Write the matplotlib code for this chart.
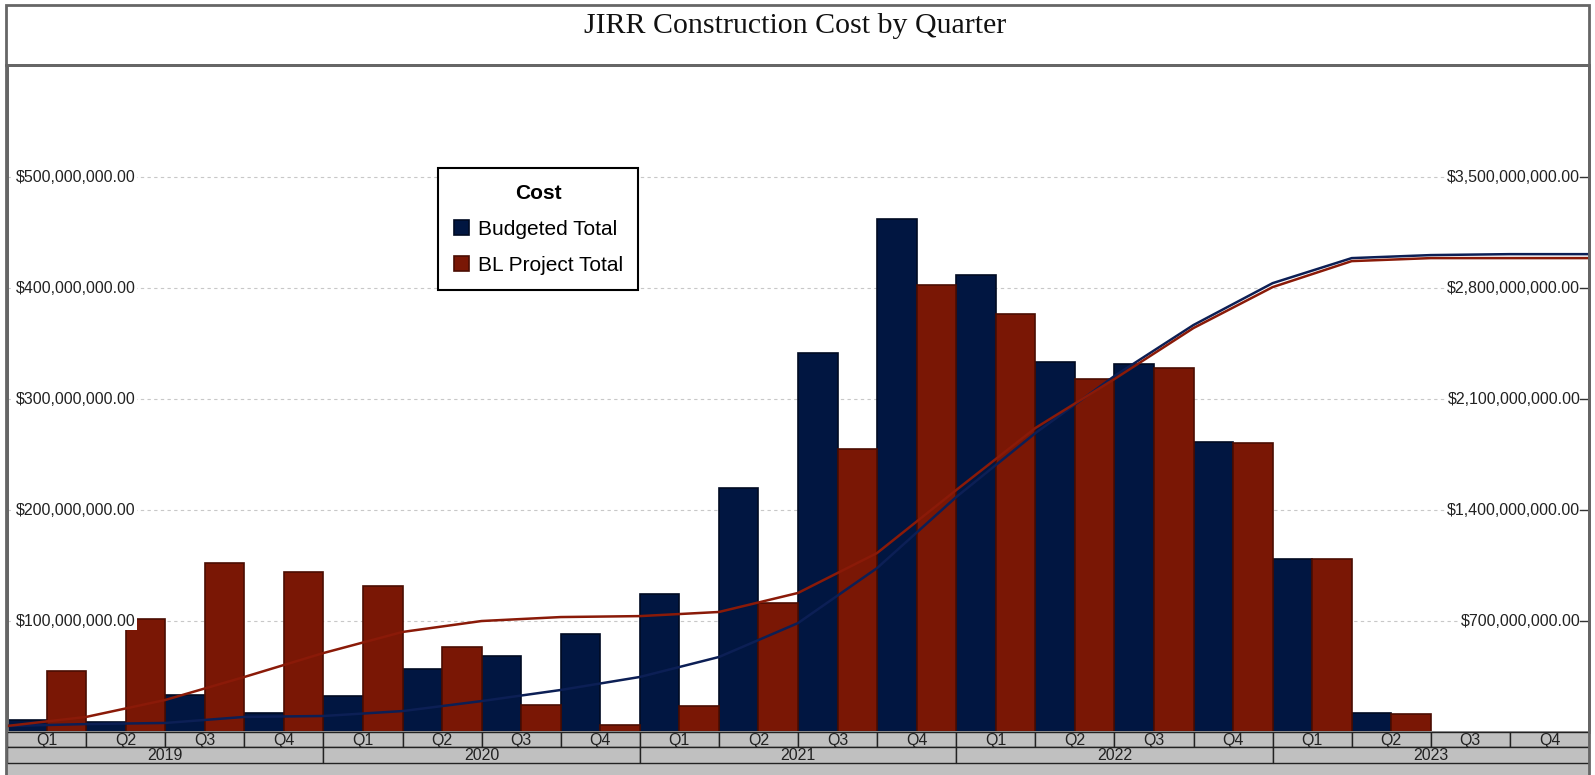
import numpy as np
import matplotlib
matplotlib.use("Agg")
import matplotlib.pyplot as plt
from matplotlib.patches import Rectangle
from matplotlib.lines import Line2D

plt.rcParams['font.family'] = ['Liberation Sans', 'DejaVu Sans']

# quarterly cost, millions of dollars (left axis)
quarters = ['Q1', 'Q2', 'Q3', 'Q4'] * 5
years = ['2019', '2020', '2021', '2022', '2023']
budgeted = [10.8, 8.7, 33.3, 17.4, 32.4, 56.8, 68.7, 88.3, 124.3, 219.8,
            341.7, 462, 412, 333, 332, 261, 156, 17, 0, 0]
bl_project = [55, 101.8, 152.5, 144.4, 131.5, 76.3, 24.3, 6.3, 23.4, 116.5,
              255, 403, 377, 317.7, 327.6, 260, 156, 16.5, 0, 0]

# running totals read at the quarter boundaries, millions (right axis)
budgeted_cum = [38, 50, 57, 95, 101, 132, 195, 265, 347, 473, 687,
                1034, 1482, 1885, 2245, 2567, 2831, 2989, 3008, 3014, 3014]
bl_project_cum = [38, 95, 202, 347, 498, 631, 700, 725, 731, 757, 877,
                  1129, 1526, 1917, 2226, 2548, 2806, 2970, 2989, 2989, 2989]

left_ticks = [100, 200, 300, 400, 500]
right_ticks = [700, 1400, 2100, 2800, 3500]

NAVY = '#011641'
RED = '#7a1705'
GRAY = '#c0c0c0'
W, H = 1595, 775

fig = plt.figure(figsize=(W / 100, H / 100), dpi=100)
ax_l, ax_r = 7 / W, 1589 / W
ax = fig.add_axes([ax_l, 43 / H, ax_r - ax_l, (732 - 65) / H])
ax2 = ax.twinx()  # sits on top, so the lines cross over the bars

x = np.arange(len(quarters))
ax.bar(x - 0.25, budgeted, width=0.5, color=NAVY, edgecolor='#000a22',
       linewidth=1.2, label='Budgeted Total', zorder=2)
ax.bar(x + 0.25, bl_project, width=0.5, color=RED, edgecolor='#4a0d02',
       linewidth=1.2, label='BL Project Total', zorder=2)

xb = np.arange(len(budgeted_cum)) - 0.5
ax2.plot(xb, budgeted_cum, color='#0c1f55', lw=1.8, zorder=3)
ax2.plot(xb, bl_project_cum, color='#8a1a08', lw=1.8, zorder=3)

ax.set_xlim(-0.5, len(quarters) - 0.5)
ax.set_ylim(0, 601)
ax2.set_ylim(0, 601 * 7)

for a in (ax, ax2):
    a.set_xticks([])
    a.set_yticks([])
    for s in ('left', 'right', 'top'):
        a.spines[s].set_color('#666666')
        a.spines[s].set_linewidth(2)
    a.spines['bottom'].set_color('#888888')
    a.spines['bottom'].set_linewidth(2)

# gridlines and in-plot tick labels (labels sit over the bars)
for v in left_ticks:
    ax.axhline(v, color='#c8c8c8', lw=0.8, ls=(0, (3, 3)), zorder=0)
    ax.text(0.0055, v, f'${v * 1e6:,.2f}', transform=ax.get_yaxis_transform(),
            ha='left', va='center', fontsize=11.5, color='#222222', zorder=5,
            bbox=dict(facecolor='white', edgecolor='none', pad=1))
for v in right_ticks:
    ax2.text(0.9945, v, f'${v * 1e6:,.2f}', transform=ax2.get_yaxis_transform(),
             ha='right', va='center', fontsize=11.5, color='#222222', zorder=1,
             bbox=dict(facecolor='white', edgecolor='none', pad=1))
    ax2.plot([0.9945, 1.0], [v, v], transform=ax2.get_yaxis_transform(),
             color='#333333', lw=1, clip_on=False)

handles, labels = ax.get_legend_handles_labels()
leg = ax2.legend(handles, labels, loc='upper left',
                 bbox_to_anchor=(438 / W, 1 - 168 / H),
                 bbox_transform=fig.transFigure, borderaxespad=0,
                 title='Cost', fontsize=15, fancybox=False, framealpha=1,
                 edgecolor='black', handlelength=0.75, handleheight=0.75,
                 handletextpad=0.4, labelspacing=0.82, borderpad=0.75,
                 title_fontproperties={'weight': 'bold', 'size': 15})
leg.get_frame().set_linewidth(1.5)
leg.set_zorder(10)

# category header under the plot
axh = fig.add_axes([ax_l, 0, ax_r - ax_l, 43 / H])
axh.set_xlim(-0.5, len(quarters) - 0.5)
axh.set_ylim(43, 0)
axh.axis('off')
axh.axhspan(31, 43, color=GRAY, lw=0)
axh.bar(x, 15, bottom=0, width=1, color=GRAY, edgecolor='#222222', lw=1)
year_pos = np.arange(len(years)) * 4 + 1.5
axh.bar(year_pos, 16, bottom=15, width=4, color=GRAY, edgecolor='#222222', lw=1)
for xi, q in zip(x, quarters):
    axh.text(xi, 8, q, ha='center', va='center', fontsize=11.5, color='#222222')
for xi, yr in zip(year_pos, years):
    axh.text(xi, 23.2, yr, ha='center', va='center', fontsize=11.5, color='#222222')

# outer frame and title band
fig.add_artist(Rectangle((6 / W, -0.01), 1583 / W, 1 - 5 / H + 0.01,
                         transform=fig.transFigure, fill=False,
                         edgecolor='#666666', lw=2))
fig.add_artist(Line2D([6 / W, 1589 / W], [1 - 65 / H] * 2,
                      transform=fig.transFigure, color='#666666', lw=2))
fig.text(795 / W, 1 - 26 / H, 'JIRR Construction Cost by Quarter',
         ha='center', va='center', fontsize=21.5, family='Liberation Serif',
         color='#111111')

fig.savefig('out.png', dpi=100)
